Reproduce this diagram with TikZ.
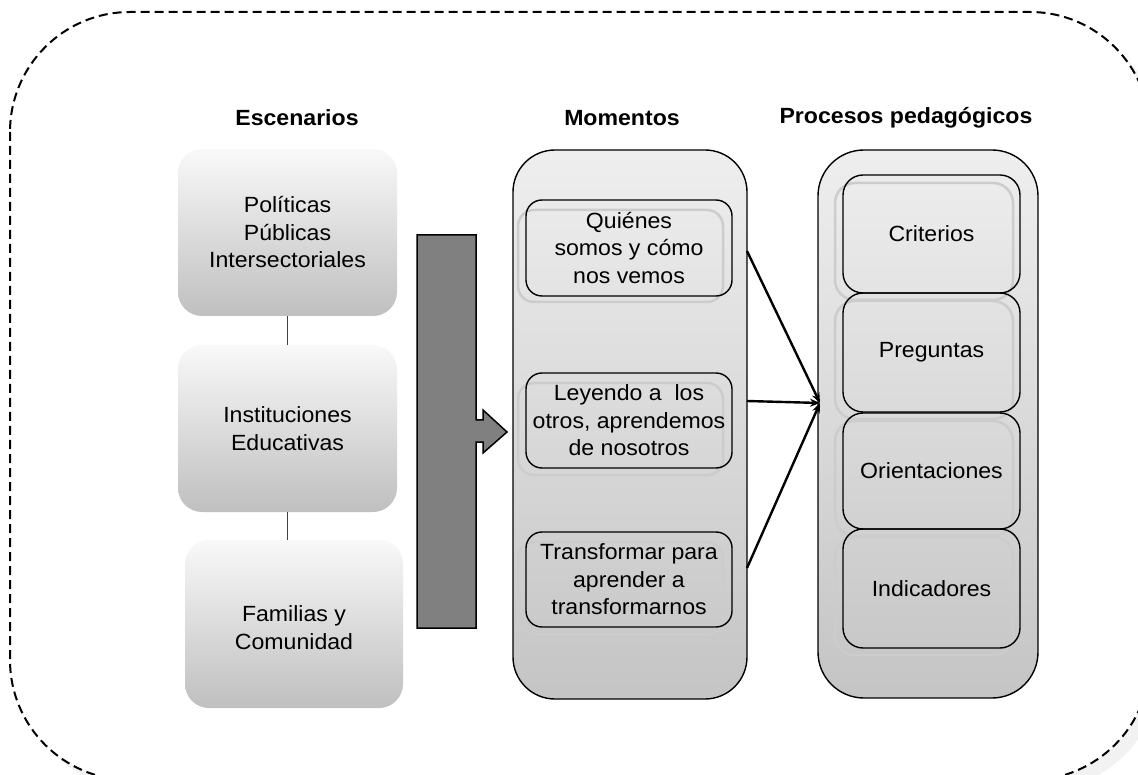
\documentclass[tikz,border=0pt]{standalone}
\usepackage{fontspec}
\setmainfont{Liberation Sans}[FakeStretch=1.05]
\usetikzlibrary{arrows.meta}
\begin{document}
\begin{tikzpicture}[x=1pt,y=-1pt,
  txt/.style={font=\fontsize{22}{27.5}\selectfont, align=center, inner sep=0pt},
  head/.style={font=\fontsize{22}{25}\selectfont\bfseries, inner sep=0pt},
  scen/.style={txt, rounded corners=24pt, top color=gray!5, bottom color=gray!50, minimum width=219pt, minimum height=167pt},
  column/.style={draw=black, line width=1.4pt, top color=gray!13, bottom color=gray!46, inner sep=0pt},
  inbox/.style={txt, draw=black, line width=1.4pt, rounded corners=16pt, inner sep=0pt},
  ghost/.style={draw=black!20, line width=2.5pt},
  conn/.style={line width=2.4pt, -{Stealth[length=10pt,width=8pt]}},
  link/.style={line width=1.3pt, draw=black!75}
]
\useasboundingbox (0,0) rectangle (1138,775);
\clip (0,0) rectangle (1138,775);
% frame with shadow
\fill[gray!10, rounded corners=120pt] (20,22) rectangle (1160,790);
\draw[fill=white, line width=2pt, dash pattern=on 9pt off 5pt, rounded corners=120pt] (10,12) rectangle (1150,780);

% headers
\node[head] (hEsc) at (297,118) {Escenarios};
\node[head] (hMom) at (622,118) {Momentos};
\node[head] (hPro) at (906,118) {Procesos pedagógicos};

% escenarios
\node[scen] (s1) at (287.5,232.5) {Políticas\\Públicas\\Intersectoriales};
\node[scen] (s2) at (287.5,428.5) {Instituciones\\Educativas};
\node[scen, minimum width=218pt, minimum height=168pt] (s3) at (294,624) {\\[-4pt]Familias y\\Comunidad};
\draw[link] (s1.south) -- (s2.north);
\draw[link] (s2.south) -- (s2.south |- s3.north);

% big block arrow
\draw[fill=black!50, line width=1.5pt, line join=miter]
  (417,235) -- (476,235) -- (476,420) -- (483,420) -- (483,410) -- (507,432)
  -- (483,453) -- (483,442) -- (476,442) -- (476,628) -- (417,628) -- cycle;

% Momentos column
\node[column, rounded corners=42pt, minimum width=234pt, minimum height=549pt] (mom) at (630,424.5) {};
\draw[ghost, rounded corners=16pt] (518,210) rectangle (723,302);
\draw[ghost, rounded corners=16pt] (518,383) rectangle (723,475);
\draw[ghost, rounded corners=16pt] (518,542) rectangle (723,634);
\node[inbox, minimum width=206pt, minimum height=96pt] (mA) at (629,248) {Quiénes\\somos y cómo\\nos vemos};
\node[inbox, minimum width=206pt, minimum height=95pt] (mB) at (629,420.5) {Leyendo a~ los\\otros, aprendemos\\de nosotros};
\node[inbox, minimum width=206pt, minimum height=95pt] (mC) at (629,579.5) {Transformar para\\aprender a\\transformarnos};

% Procesos column
\node[column, rounded corners=46pt, minimum width=220pt, minimum height=548pt] (pro) at (928,424) {};
\draw[ghost, rounded corners=20pt] (835,183) rectangle (1013,300);
\draw[ghost, rounded corners=20pt] (835,301) rectangle (1013,419);
\draw[ghost, rounded corners=20pt] (835,421) rectangle (1013,536);
\draw[ghost, rounded corners=20pt] (835,537) rectangle (1013,655);
\node[inbox, rounded corners=20pt, minimum width=177pt, minimum height=118pt] (p1) at (931.5,234) {Criterios};
\node[inbox, rounded corners=20pt, minimum width=177pt, minimum height=119pt] (p2) at (931.5,352.5) {Preguntas};
\node[inbox, rounded corners=20pt, minimum width=177pt, minimum height=116pt] (p3) at (931.5,471) {Orientaciones};
\node[inbox, rounded corners=20pt, minimum width=177pt, minimum height=119pt] (p4) at (931.5,588.5) {Indicadores};

% connectors
\coordinate (sA) at (747,251);
\coordinate (sB) at (747,401);
\coordinate (sC) at (747,568);
\coordinate (tgt) at (820,403);
\draw[conn] (sA) -- (tgt);
\draw[conn] (sB) -- (tgt);
\draw[conn] (sC) -- (tgt);
\end{tikzpicture}
\end{document}
